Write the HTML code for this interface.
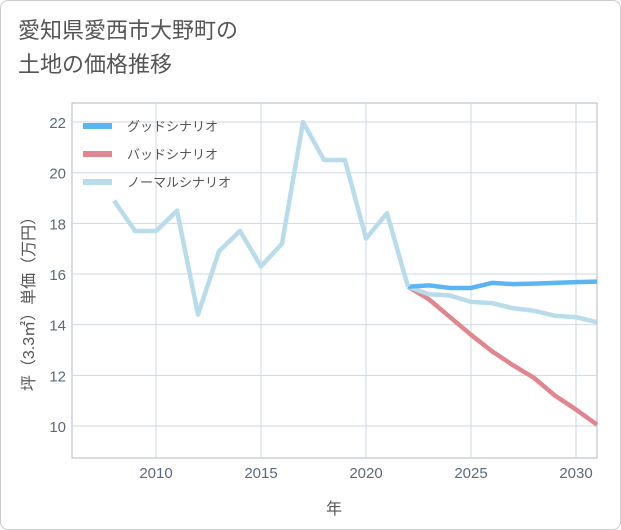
<!DOCTYPE html>
<html><head><meta charset="utf-8"><style>
body{margin:0;background:#fff;font-family:"Liberation Sans","Noto Sans CJK JP",sans-serif}
.card{position:absolute;left:0;top:0;width:619px;height:528px;border:1px solid #ccc;border-radius:8px;background:#fff}
.title{position:absolute;left:18px;top:14px;font-size:22px;line-height:34px;color:#555}
</style></head><body>
<div class="card"></div>
<div class="title">愛知県愛西市大野町の<br>土地の価格推移</div>
<svg id="c" width="621" height="530" style="position:absolute;left:0;top:0"></svg>
<script>
const years=[2008,2009,2010,2011,2012,2013,2014,2015,2016,2017,2018,2019,2020,2021,2022];
const hist=[18.9,17.7,17.7,18.5,14.4,16.9,17.7,16.3,17.2,22.0,20.5,20.5,17.4,18.4,15.5];
const fYears=[2022,2023,2024,2025,2026,2027,2028,2029,2030,2031];
const good=[15.5,15.55,15.45,15.45,15.65,15.6,15.62,15.65,15.68,15.7];
const bad=[15.5,15.0,14.3,13.6,12.95,12.4,11.9,11.2,10.65,10.05];
const normal=[15.5,15.2,15.15,14.9,14.85,14.65,14.55,14.35,14.3,14.1];
const xTicks=[2010,2015,2020,2025,2030];
const yTicks=[10,12,14,16,18,20,22];
const L=72,R=597,T=103,B=458;
const x=v=>156+(v-2010)*21;
const y=v=>426-(v-10)*25.33;
const svg=document.getElementById('c');
const NS='http://www.w3.org/2000/svg';
function mk(t,a){const e=document.createElementNS(NS,t);for(const k in a)e.setAttribute(k,a[k]);svg.appendChild(e);return e;}
let bg=mk('rect',{x:L,y:T,width:R-L,height:B-T,fill:'#fff',stroke:'#b0b8c0'});


xTicks.forEach(t=>{let g=mk('line',{x1:x(t),x2:x(t),y1:T,y2:B,stroke:'#cfd9e2'});


let tx=mk('text',{x:x(t),y:478,'text-anchor':'middle','font-size':15,fill:'#5a6a7a'});tx.textContent=t;

});
yTicks.forEach(t=>{let g=mk('line',{x1:L,x2:R,y1:y(t),y2:y(t),stroke:'#cfd9e2'});


let tx=mk('text',{x:66,y:y(t)+6,'text-anchor':'end','font-size':15,fill:'#5a6a7a'});tx.textContent=t;

});
function line(xs,vs,c,n){let p=mk('polyline',{points:xs.map((v,i)=>x(v)+','+y(vs[i])).join(' '),fill:'none',stroke:c,'stroke-width':4.5,'stroke-linejoin':'round'});

}
line(fYears,bad,'#e0868f','bad-scenario-line');
line(fYears,normal,'#b8dcec','normal-scenario-line');
line(fYears,good,'#5bb5f2','good-scenario-line');
line(years,hist,'#b8dcec','historical-line');
const lg=[['グッドシナリオ','#5bb5f2'],['バッドシナリオ','#e0868f'],['ノーマルシナリオ','#b8dcec']];
lg.forEach((d,i)=>{let yy=126+i*28;let l=mk('line',{x1:83,x2:112,y1:yy,y2:yy,stroke:d[1],'stroke-width':6});


let t=mk('text',{x:127,y:yy+5,'font-size':13,fill:'#555'});t.textContent=d[0];

});
let xt=mk('text',{x:334,y:514,'text-anchor':'middle','font-size':16,fill:'#555'});xt.textContent='年';


let yt=mk('text',{x:0,y:0,'text-anchor':'middle','font-size':16,fill:'#555',transform:'translate(34,300) rotate(-90)'});yt.textContent='坪（3.3㎡）単価（万円）';


</script>
</body></html>
